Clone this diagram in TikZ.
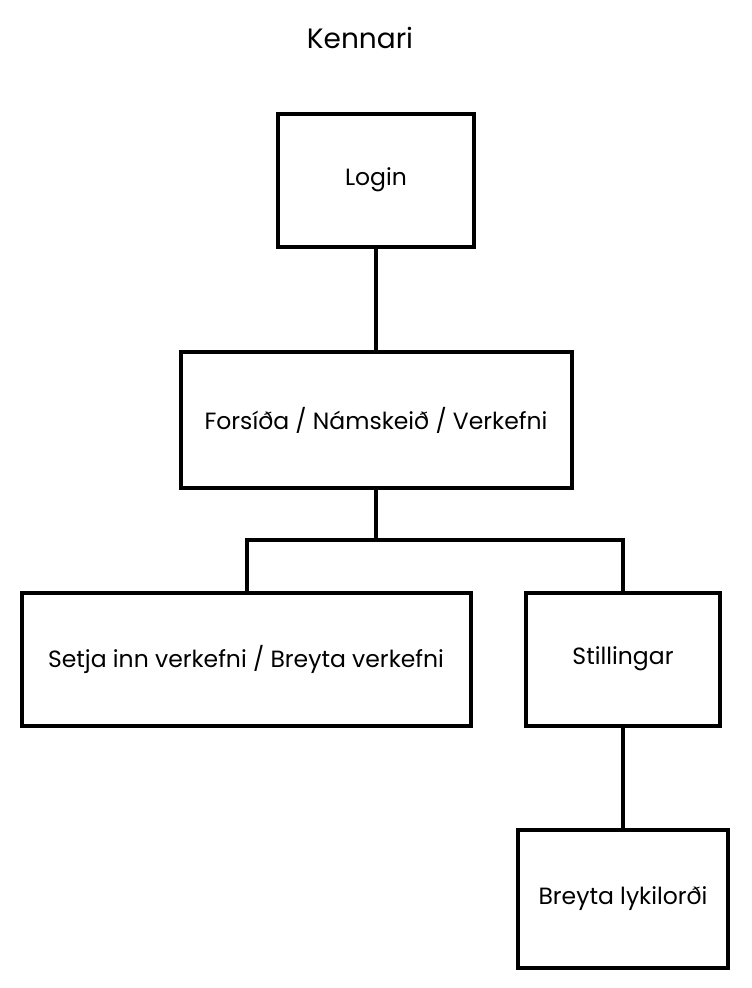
\documentclass[tikz,border=0pt]{standalone}
\usepackage{fontspec}
\setmainfont{Poppins}
\begin{document}
\begin{tikzpicture}[x=1pt,y=-1pt,
  box/.style={draw=black,line width=4pt,fill=white,inner sep=0pt,font=\fontsize{23.5}{26}\selectfont},
  conn/.style={line width=3.2pt,draw=black}]
\useasboundingbox (0,0) rectangle (752,988);
\node[font=\fontsize{28}{32}\selectfont] (title) at (360,38) {Kennari};
\node[box,minimum width=196pt,minimum height=133pt] (login) at (376,180) {Login};
\node[box,minimum width=391pt,minimum height=136pt] (fors) at (376,420) {Forsíða / Námskeið / Verkefni};
\node[box,minimum width=449pt,minimum height=133pt] (setja) at (246,659) {Setja inn verkefni / Breyta verkefni};
\node[box,minimum width=194pt,minimum height=133pt] (still) at (623,659) {Stillingar};
\node[box,minimum width=210pt,minimum height=138pt] (lyk) at (623,899) {Breyta lykilorði};
\coordinate (split) at (376,540);
\draw[conn] (login.south) -- (fors.north);
\draw[conn] (fors.south) -- (split);
\draw[conn] (setja.north -| 247,0) |- (split) -| (still.north);
\draw[conn] (still.south) -- (lyk.north);
\end{tikzpicture}
\end{document}
